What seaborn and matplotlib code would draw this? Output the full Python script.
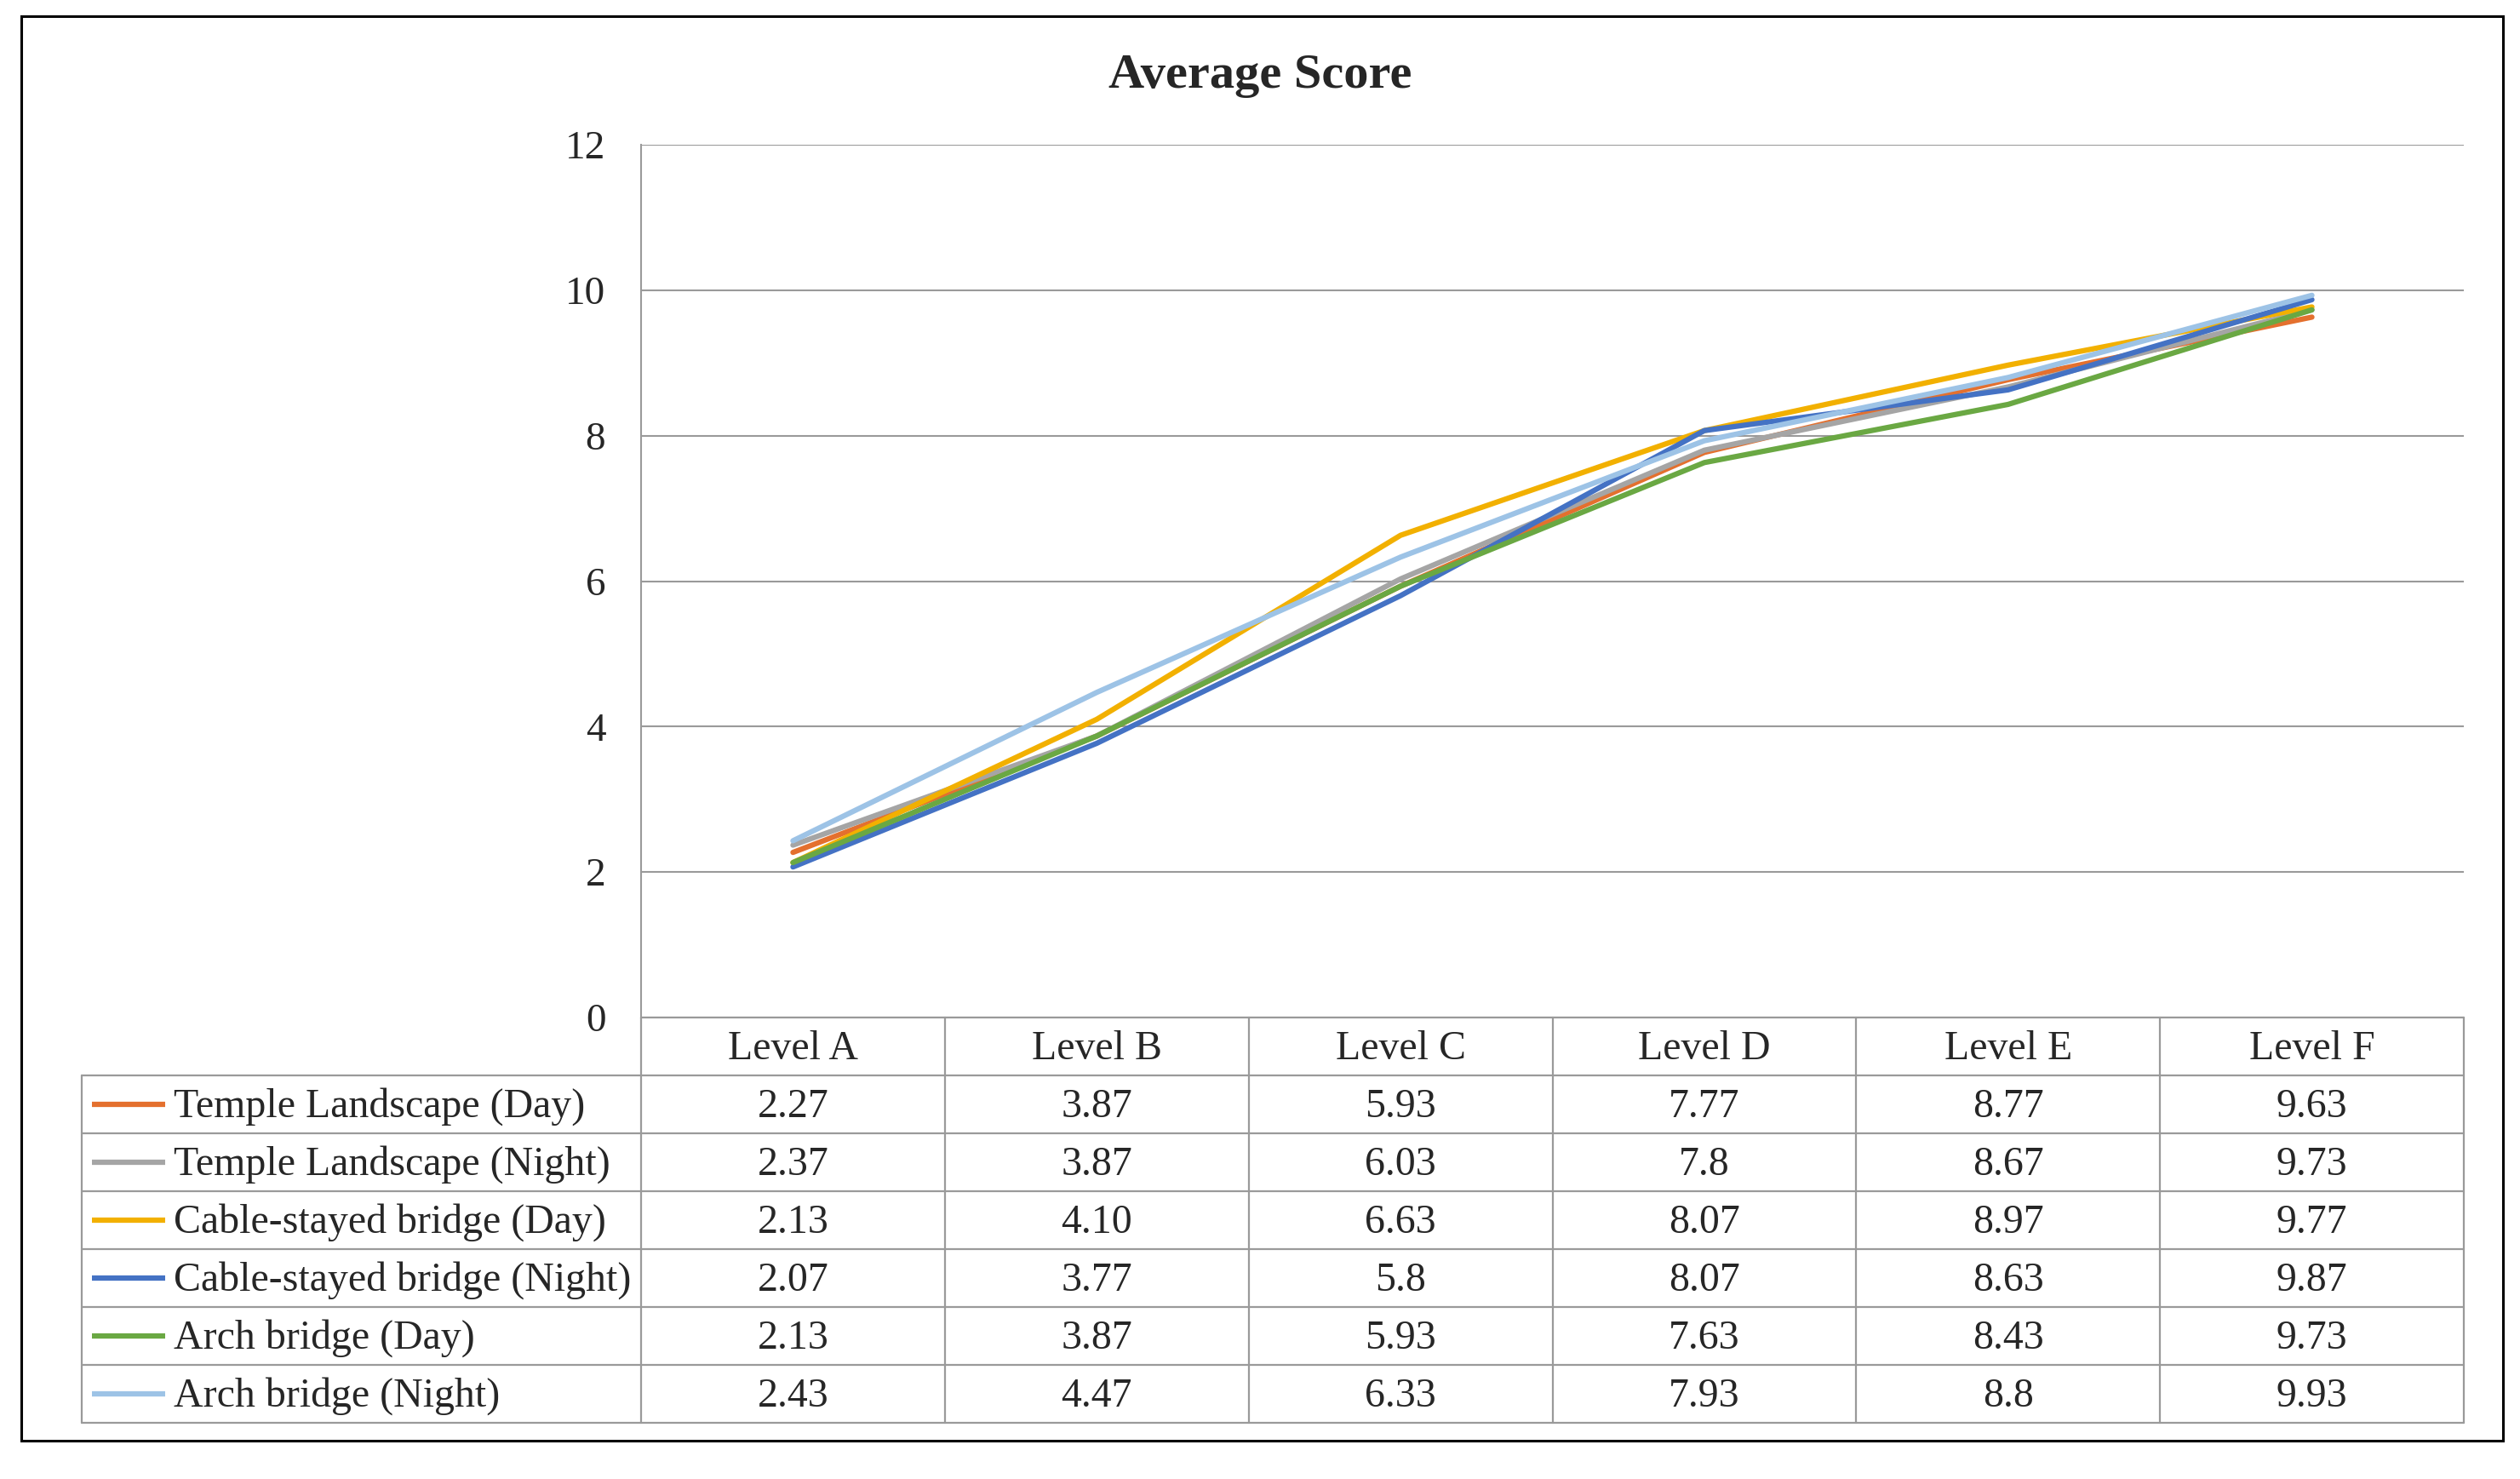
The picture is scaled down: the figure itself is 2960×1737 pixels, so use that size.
"""Average Score line chart with data table below"""
import pandas as pd
import matplotlib.pyplot as plt
import seaborn as sns
from matplotlib.patches import Rectangle

# Data
levels = ['Level A', 'Level B', 'Level C', 'Level D', 'Level E', 'Level F']
series_names = ['Temple Landscape (Day)', 'Temple Landscape (Night)',
                'Cable-stayed bridge (Day)', 'Cable-stayed bridge (Night)',
                'Arch bridge (Day)', 'Arch bridge (Night)']
temple_day = [2.27, 3.87, 5.93, 7.77, 8.77, 9.63]
temple_night = [2.37, 3.87, 6.03, 7.8, 8.67, 9.73]
cable_day = [2.13, 4.10, 6.63, 8.07, 8.97, 9.77]
cable_night = [2.07, 3.77, 5.8, 8.07, 8.63, 9.87]
arch_day = [2.13, 3.87, 5.93, 7.63, 8.43, 9.73]
arch_night = [2.43, 4.47, 6.33, 7.93, 8.8, 9.93]
# text shown in the table cells
table_text = [
    ['2.27', '3.87', '5.93', '7.77', '8.77', '9.63'],
    ['2.37', '3.87', '6.03', '7.8', '8.67', '9.73'],
    ['2.13', '4.10', '6.63', '8.07', '8.97', '9.77'],
    ['2.07', '3.77', '5.8', '8.07', '8.63', '9.87'],
    ['2.13', '3.87', '5.93', '7.63', '8.43', '9.73'],
    ['2.43', '4.47', '6.33', '7.93', '8.8', '9.93'],
]
colors = ['#E4702E', '#A5A5A5', '#F2B000', '#4472C4', '#6AA843', '#9DC3E6']

all_values = [temple_day, temple_night, cable_day, cable_night, arch_day, arch_night]
rows = []
for name, vals in zip(series_names, all_values):
    for lvl, v in zip(levels, vals):
        rows.append({'Level': lvl, 'Score': v, 'Series': name})
df = pd.DataFrame(rows)

sns.set_theme(style="white")
plt.rcParams['font.family'] = ['Liberation Serif', 'DejaVu Serif']

W, H = 2960, 1737
fig = plt.figure(figsize=(W / 100, H / 100), dpi=100)

# outer frame
fig.patches.append(Rectangle((25 / W, 1 - 1692 / H), (2940 - 25) / W, (1692 - 19) / H,
                             transform=fig.transFigure, fill=False,
                             edgecolor='black', linewidth=2.2))

# main plot area
px_left, px_right, px_top, px_bottom = 753, 2894, 170, 1195
ax = fig.add_axes([px_left / W, 1 - px_bottom / H,
                   (px_right - px_left) / W, (px_bottom - px_top) / H])
sns.lineplot(data=df, x='Level', y='Score', hue='Series', hue_order=series_names,
             palette=colors, linewidth=4.5, legend=False, ax=ax, sort=False)
ax.set_xlim(-0.5, 5.5)
ax.set_ylim(0, 12)
ax.set_yticks(range(0, 13, 2))
ax.set_xticks([])
ax.set_xlabel('')
ax.set_ylabel('')
ax.grid(axis='y', color='#9a9a9a', linewidth=1.5)
for s in ['top', 'right', 'bottom']:
    ax.spines[s].set_visible(False)
ax.spines['left'].set_color('#9a9a9a')
ax.spines['left'].set_linewidth(1.5)
ax.tick_params(axis='y', length=0, pad=30, labelsize=34)

fig.text(0.5, 1 - 89 / H, 'Average Score', ha='center', va='center',
         fontsize=42, fontweight='bold')

# data table below the plot
unit = (px_right - px_left) / 6.0
t_left = 96
x_min = -0.5 - (px_left - t_left) / unit
tax = fig.add_axes([t_left / W, 1 - 1671 / H, (px_right - t_left) / W, (1671 - px_bottom) / H])
tax.set_xlim(x_min, 5.5)
tax.set_ylim(7, 0)
tax.axis('off')
lc, lw = '#9a9a9a', 1.6
tax.plot([-0.5, 5.5], [0, 0], color=lc, lw=lw, clip_on=False)
for r in range(1, 8):
    tax.plot([x_min, 5.5], [r, r], color=lc, lw=lw, clip_on=False)
tax.plot([x_min, x_min], [1, 7], color=lc, lw=lw, clip_on=False)
for c in range(7):
    tax.plot([c - 0.5, c - 0.5], [0, 7], color=lc, lw=lw, clip_on=False)

for c, lvl in enumerate(levels):
    tax.text(c, 0.54, lvl, ha='center', va='center', fontsize=34.5)
for r, name in enumerate(series_names):
    y = r + 1.54
    tax.plot([x_min + 12 / unit, x_min + 98 / unit], [y - 0.04, y - 0.04],
             color=colors[r], lw=4.5, solid_capstyle='butt')
    tax.text(x_min + 108 / unit, y, name, ha='left', va='center', fontsize=34.5)
    for c in range(6):
        tax.text(c, y, table_text[r][c], ha='center', va='center', fontsize=34.5)

plt.savefig('out.png', dpi=100)
